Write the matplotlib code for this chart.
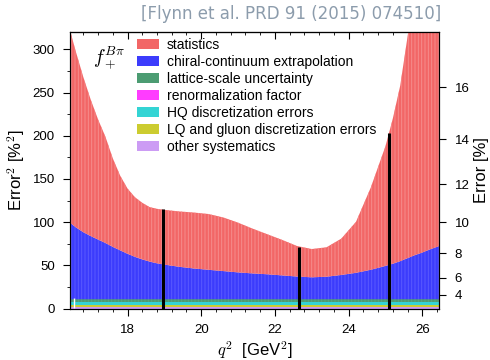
import numpy as np
import matplotlib
matplotlib.use("Agg")
import matplotlib.pyplot as plt
from matplotlib.ticker import MultipleLocator

plt.rcParams['font.family'] = ['Liberation Sans', 'DejaVu Sans']
plt.rcParams['mathtext.fontset'] = 'cm'
plt.rcParams['hatch.linewidth'] = 0.7

# q^2 grid [GeV^2] and error budget contributions [%^2]
q2 = [16.44, 16.6, 16.8, 17.0, 17.2, 17.4, 17.6, 17.8, 18.0, 18.2, 18.4, 18.6,
      18.8, 19.0, 19.4, 19.8, 20.2, 20.6, 21.0, 21.4, 21.8, 22.2, 22.6, 23.0,
      23.4, 23.8, 24.2, 24.6, 25.0, 25.2, 25.4, 25.6, 25.8, 26.0, 26.2, 26.46]

statistics = [222.5, 203, 179.5, 158, 139, 123, 102.5, 86.5, 75.5, 69, 65.5, 63,
              63, 63.3, 64, 64.7, 64.5, 62, 57.5, 51.7, 46.2, 41, 35.3, 32.7,
              34, 42, 59, 95, 138.5, 168, 203, 256.5, 308, 365, 431.5, 507.5]
chiral = [88.5, 83, 77.5, 73, 69, 65, 60.5, 56.5, 52.5, 49, 46, 43.5,
          41.5, 40, 37.5, 35.5, 34, 32.5, 31, 29.8, 28.8, 27.5, 26.2, 25.3,
          26, 28, 30.5, 34, 38.5, 41, 44, 47.5, 51, 54, 57.5, 61.5]
lattice_scale = 3.0
renormalization = 0.2
hq_disc = 3.2
lq_gluon = 2.4
other_sys = 2.2

# simulated q^2 points and their total error^2
sim_q2 = [18.96, 22.64, 25.10]
sim_err2 = [115.4, 71.8, 203.0]

labels = ['statistics', 'chiral-continuum extrapolation', 'lattice-scale uncertainty',
          'renormalization factor', 'HQ discretization errors',
          'LQ and gluon discretization errors', 'other systematics']
colors = ['#f26666', '#3c3cfc', '#4c9c72', '#ff3cff', '#34d4d4', '#cccc30', '#cc9cf4']
stripes = ['#f68c8c', '#5a5aff', '#5aa880', '#ff3cff', '#34d4d4', '#cccc30', '#cc9cf4']

n = len(q2)
layers = [np.full(n, other_sys), np.full(n, lq_gluon), np.full(n, hq_disc),
          np.full(n, renormalization), np.full(n, lattice_scale),
          np.array(chiral), np.array(statistics)]

fig = plt.figure(figsize=(4.9, 3.6), dpi=100)
ax = fig.add_axes([0.1429, 0.1425, 0.7536, 0.7686])

polys = ax.stackplot(q2, layers, colors=colors[::-1], linewidth=0)
# thin vertical stripes on the three upper bands
for p, ec in zip(polys[-3:], stripes[:3][::-1]):
    p.set_edgecolor(ec)
    p.set_linewidth(0)
    p.set_hatch('|' * 5)

ax.vlines(sim_q2, 0, sim_err2, color='black', lw=2.2, zorder=5)
ax.vlines([16.55], 0.5, 12, color='white', lw=1, zorder=5)

ax.set_xlim(16.44, 26.46)
ax.set_ylim(0, 320)
ax.xaxis.set_major_locator(MultipleLocator(2))
ax.xaxis.set_minor_locator(MultipleLocator(0.4))
ax.yaxis.set_major_locator(MultipleLocator(50))
ax.yaxis.set_minor_locator(MultipleLocator(25))
ax.tick_params(axis='x', which='both', direction='out', labelsize=9.5, pad=6)
ax.tick_params(axis='x', which='major', length=5)
ax.tick_params(axis='x', which='minor', length=2.5)
ax.tick_params(axis='y', which='major', length=5, labelsize=9.5, pad=6)
ax.tick_params(axis='y', which='minor', length=2.5)

# ticks along the top edge, pointing into the plot
top = ax.secondary_xaxis('top')
top.xaxis.set_major_locator(MultipleLocator(2))
top.xaxis.set_minor_locator(MultipleLocator(0.4))
top.tick_params(which='both', direction='in', labeltop=False)
top.tick_params(which='major', length=5)
top.tick_params(which='minor', length=2.5)

ax.set_xlabel('$q^2$  [GeV$^2$]', fontsize=12, labelpad=2)
ax.set_ylabel('Error$^2$ [%$^2$]', fontsize=12, labelpad=4)

# right axis: sqrt scale showing the error in percent
ax2 = ax.twinx()
ax2.set_ylim(ax.get_ylim())
err_ticks = [4, 6, 8, 10, 12, 14, 16]
ax2.set_yticks([e ** 2 for e in err_ticks])
ax2.set_yticklabels([str(e) for e in err_ticks])
ax2.tick_params(axis='y', length=5, labelsize=9.5, pad=6)
ax2.set_ylabel('Error [%]', fontsize=12, labelpad=3)

ax.text(0.062, 0.905, r'$f_+^{B\pi}$', transform=ax.transAxes, fontsize=14,
        ha='left', va='center')

leg = ax.legend(polys[::-1], labels, loc='upper left', bbox_to_anchor=(0.182, 0.978),
                frameon=False, fontsize=10, borderpad=0, borderaxespad=0,
                handlelength=1.6, handleheight=0.72, handletextpad=0.53,
                labelspacing=0.21)
for h, c in zip(leg.legend_handles, colors):
    h.set_hatch(None)
    h.set_edgecolor(c)

fig.text(0.901, 0.961, '[Flynn et al. PRD 91 (2015) 074510]', ha='right', va='center',
         fontsize=12, color='#8c9cac', family='DejaVu Sans')

fig.savefig('out.png', dpi=100)
